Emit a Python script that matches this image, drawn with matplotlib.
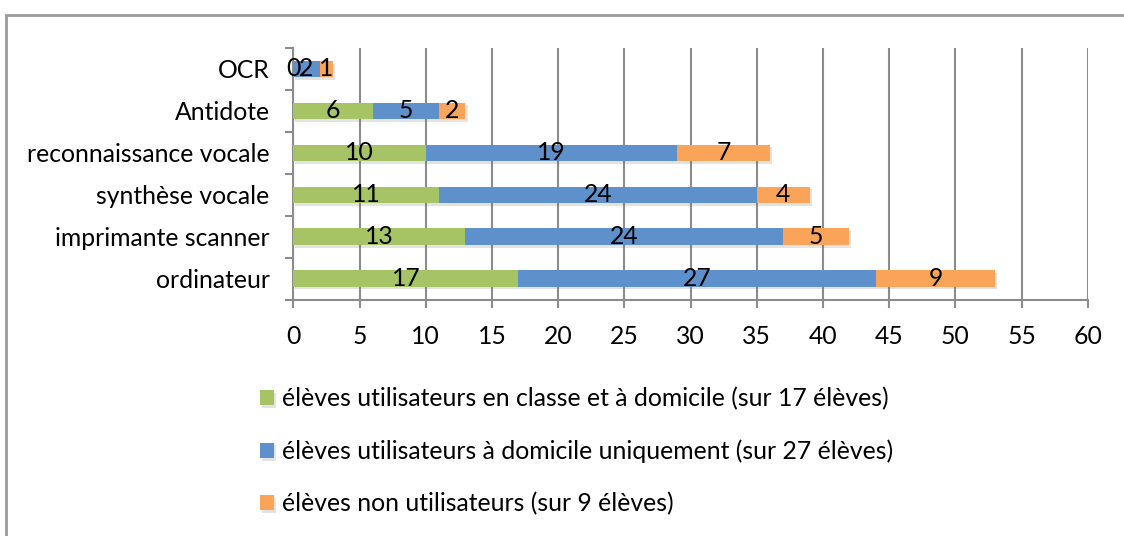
import matplotlib
matplotlib.use("Agg")
import matplotlib.pyplot as plt
import matplotlib.patheffects as pe
from matplotlib.patches import Rectangle
import numpy as np

plt.rcParams['font.family'] = ['Lato', 'DejaVu Sans']

categories = ["ordinateur", "imprimante scanner", "synthèse vocale",
              "reconnaissance vocale", "Antidote", "OCR"]
series_names = ["élèves utilisateurs en classe et à domicile (sur 17 élèves)",
                "élèves utilisateurs à domicile uniquement (sur 27 élèves)",
                "élèves non utilisateurs (sur 9 élèves)"]
classe_domicile = [17, 13, 11, 10, 6, 0]
domicile_seul = [27, 24, 24, 19, 5, 2]
non_utilisateurs = [9, 5, 4, 7, 2, 1]
colors = ["#a6c465", "#5e90cb", "#f9a459"]
x_ticks = list(range(0, 61, 5))

FS = 17.8

fig = plt.figure(figsize=(11.24, 5.36), dpi=100)
ax = fig.add_axes([293.3 / 1124, 1 - 299.5 / 536, (1087.7 - 293.3) / 1124, (299.5 - 48) / 536])

y = np.arange(len(categories))
left = np.zeros(len(categories))
shadow = [pe.SimplePatchShadow(offset=(1.5, -2), alpha=0.18, shadow_rgbFace='#666666'), pe.Normal()]
for vals, col, name in zip([classe_domicile, domicile_seul, non_utilisateurs], colors, series_names):
    bars = ax.barh(y, vals, left=left, height=0.39, color=col, label=name, zorder=3,
                   path_effects=shadow)
    ax.bar_label(bars, labels=[str(v) for v in vals], label_type='center', fontsize=FS,
                 color='black', zorder=5)
    left = left + np.array(vals)

ax.set_xlim(0, 60)
ax.set_ylim(-0.5, len(categories) - 0.5)
ax.set_xticks(x_ticks)
ax.set_xticklabels([str(t) for t in x_ticks], fontsize=FS)
ax.set_yticks(y)
ax.set_yticklabels(categories, fontsize=FS)
ax.set_yticks(np.arange(-0.5, len(categories), 1.0), minor=True)
ax.tick_params(axis='y', which='major', length=0, pad=17)
ax.tick_params(axis='y', which='minor', length=6, width=1.5, color='#8c8c8c', direction='out')
ax.tick_params(axis='x', which='major', length=6, width=1.5, color='#8c8c8c', direction='out', pad=12)
ax.grid(axis='x', color='#8c8c8c', linewidth=1.5, zorder=0)
for s in ['top', 'right']:
    ax.spines[s].set_visible(False)
for s in ['left', 'bottom']:
    ax.spines[s].set_color('#8c8c8c')
    ax.spines[s].set_linewidth(1.5)

leg = fig.legend(loc='upper left', bbox_to_anchor=(250 / 1124, 1 - 377 / 536), frameon=False,
                 fontsize=FS, handlelength=0.58, handleheight=0.58, handletextpad=0.3,
                 labelspacing=1.18, borderaxespad=0)

fig.patches.append(Rectangle((6.5 / 1124, -0.1), 1.2, 1 - 14.5 / 536 + 0.1, transform=fig.transFigure,
                             fill=False, edgecolor='#9a9a9a', linewidth=2))

fig.savefig("out.png", dpi=100)
